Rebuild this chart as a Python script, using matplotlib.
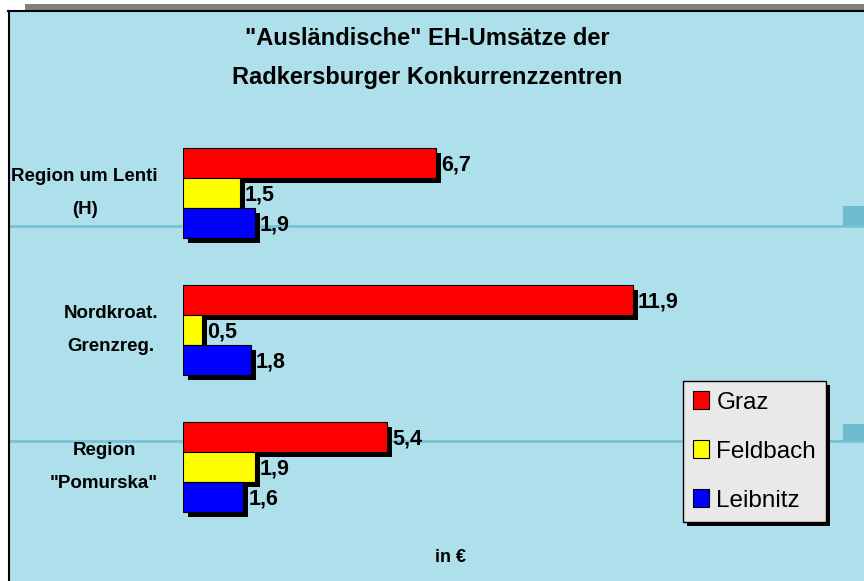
import numpy as np
import matplotlib.pyplot as plt
import matplotlib.patheffects as pe
from matplotlib.patches import Patch, Rectangle
from matplotlib.lines import Line2D

plt.rcParams['font.family'] = ['Liberation Sans', 'DejaVu Sans']

# daten
regionen = ['Region um Lenti\n(H)', 'Nordkroat.\nGrenzreg.', 'Region\n"Pomurska"']
serien = ['Graz', 'Feldbach', 'Leibnitz']
werte = {
    'Graz': [6.7, 11.9, 5.4],
    'Feldbach': [1.5, 0.5, 1.9],
    'Leibnitz': [1.9, 1.8, 1.6],
}
farben = ['#ff0000', '#ffff00', '#0000ff']
titel = '"Ausländische" EH-Umsätze der\nRadkersburger Konkurrenzzentren'
einheit = 'in €'

bg = '#ade0eb'
W, H = 864, 581
fig = plt.figure(figsize=(W / 100, H / 100), dpi=100)
fig.patch.set_facecolor('white')

# hintergrund + rahmen
fig.patches.append(Rectangle((8 / W, 0), 1 - 8 / W, 1 - 10 / H, transform=fig.transFigure,
                             facecolor=bg, edgecolor='none', zorder=-10))
fig.patches.append(Rectangle((25 / W, 1 - 10 / H), 1, 6 / H, transform=fig.transFigure,
                             facecolor='#808080', edgecolor='none', zorder=-9))
fig.lines.append(Line2D([8 / W, 1], [1 - 10.5 / H] * 2, transform=fig.transFigure, color='k', lw=1.5))
fig.lines.append(Line2D([8.5 / W] * 2, [0, 1 - 10.5 / H], transform=fig.transFigure, color='k', lw=1.5))
for yl in [226, 441]:
    fig.lines.append(Line2D([9 / W, 1], [1 - yl / H] * 2, transform=fig.transFigure,
                            color='#78c3d5', lw=2, zorder=-5))
for y0, y1 in [(206, 226), (424, 441)]:
    fig.patches.append(Rectangle((843 / W, 1 - y1 / H), 21 / W, (y1 - y0) / H, transform=fig.transFigure,
                                 facecolor='#6dbcd0', edgecolor='none', zorder=-5))

# achse: x=0 bei px 183, 37.8 px pro einheit
x0 = 183
ax = fig.add_axes([x0 / W, 0, 1 - x0 / W, 1])
ax.set_facecolor('none')
ax.set_xlim(0, (W - x0) / 37.8)
ystep = 137.0
ax.set_ylim((H - 193) / ystep, -193 / ystep)
ax.axis('off')

h = 30 / ystep
pos = np.arange(len(regionen))
for i, s in enumerate(serien):
    yy = pos + (i - 1) * h
    bars = ax.barh(yy, werte[s], height=h, color=farben[i], edgecolor='k', lw=0.8, zorder=3 + i)
    for b in bars:
        b.set_path_effects([pe.SimplePatchShadow(offset=(3.5, -3.5), shadow_rgbFace='k', alpha=1), pe.Normal()])
    for y, v in zip(yy, werte[s]):
        ax.annotate(f'{v:.1f}'.replace('.', ','), (v, y), xytext=(3.5, -1.5), textcoords='offset points',
                    ha='left', va='center', fontsize=15.5, fontweight='bold', zorder=10)

for p, lab in zip(pos, regionen):
    ax.annotate(lab, (0, p), xytext=(-18, 0), textcoords='offset points', ha='right', va='center',
                multialignment='center', fontsize=13.5, fontweight='bold', linespacing=2.3,
                annotation_clip=False)

fig.text(427 / W, 1 - 58 / H, titel, ha='center', va='center', fontsize=17, fontweight='bold', linespacing=1.9)
fig.text(450 / W, 1 - 557 / H, einheit, ha='center', va='center', fontsize=13, fontweight='bold')

handles = [Patch(facecolor=c, edgecolor='k', lw=0.8) for c in farben]
leg = fig.legend(handles, serien, loc='lower left', bbox_to_anchor=(683 / W, 1 - 522 / H),
                 frameon=True, fancybox=False, fontsize=17.5, handlelength=0.65, handleheight=0.75,
                 handletextpad=0.3, labelspacing=1.1, borderpad=0.42, borderaxespad=0)
fr = leg.get_frame()
fr.set_facecolor('#e9e9e9')
fr.set_edgecolor('k')
fr.set_alpha(1)
fr.set_linewidth(1)
fr.set_path_effects([pe.SimplePatchShadow(offset=(3, -3), shadow_rgbFace='k', alpha=1), pe.Normal()])

fig.savefig('out.png', dpi=100)
